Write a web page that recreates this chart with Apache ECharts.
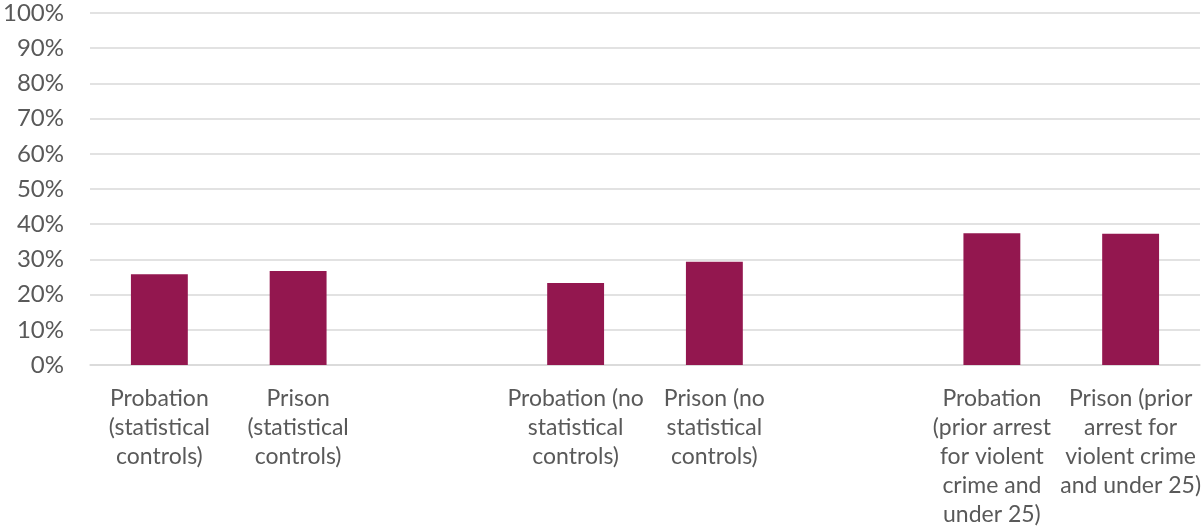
<!DOCTYPE html>
<html>
<head>
<meta charset="utf-8">
<script src="https://cdn.jsdelivr.net/npm/echarts@6/dist/echarts.min.js"></script>
<style>
html,body{margin:0;padding:0;background:#fff;}
#chart{width:1204px;height:529px;}
</style>
</head>
<body>
<div id="chart"></div>
<script>
const categories = [
  "Probation\n(statistical\ncontrols)",
  "Prison\n(statistical\ncontrols)",
  " ",
  "Probation (no\nstatistical\ncontrols)",
  "Prison (no\nstatistical\ncontrols)",
  "  ",
  "Probation\n(prior arrest\nfor violent\ncrime and\nunder 25)",
  "Prison (prior\narrest for\nviolent crime\nand under 25)"
];
const values = [25.8, 26.7, null, 23.3, 29.3, null, 37.4, 37.3];
const yTicks = { min: 0, max: 100, interval: 10 };

const chart = echarts.init(document.getElementById('chart'), null, { renderer: 'canvas' });
chart.setOption({
  animation: false,
  grid: { left: 89, right: 4, top: 13, bottom: 161, containLabel: false },
  xAxis: {
    type: 'category',
    data: categories,
    axisLine: { show: true, lineStyle: { color: '#D9D9D9', width: 1.5 } },
    axisTick: { show: false },
    axisLabel: {
      interval: 0,
      color: '#595959',
      fontFamily: 'Lato',
      fontSize: 23,
      lineHeight: 29,
      margin: 19
    }
  },
  yAxis: {
    type: 'value',
    min: yTicks.min,
    max: yTicks.max,
    interval: yTicks.interval,
    axisLine: { show: false },
    axisTick: { show: false },
    splitLine: { lineStyle: { color: '#D9D9D9', width: 1.5 } },
    axisLabel: {
      color: '#595959',
      fontFamily: 'Lato',
      fontSize: 24,
      margin: 26,
      formatter: v => v + '%'
    }
  },
  series: [{
    type: 'bar',
    data: values,
    barWidth: '41%',
    itemStyle: { color: '#93174F' }
  }]
});
</script>
</body>
</html>
